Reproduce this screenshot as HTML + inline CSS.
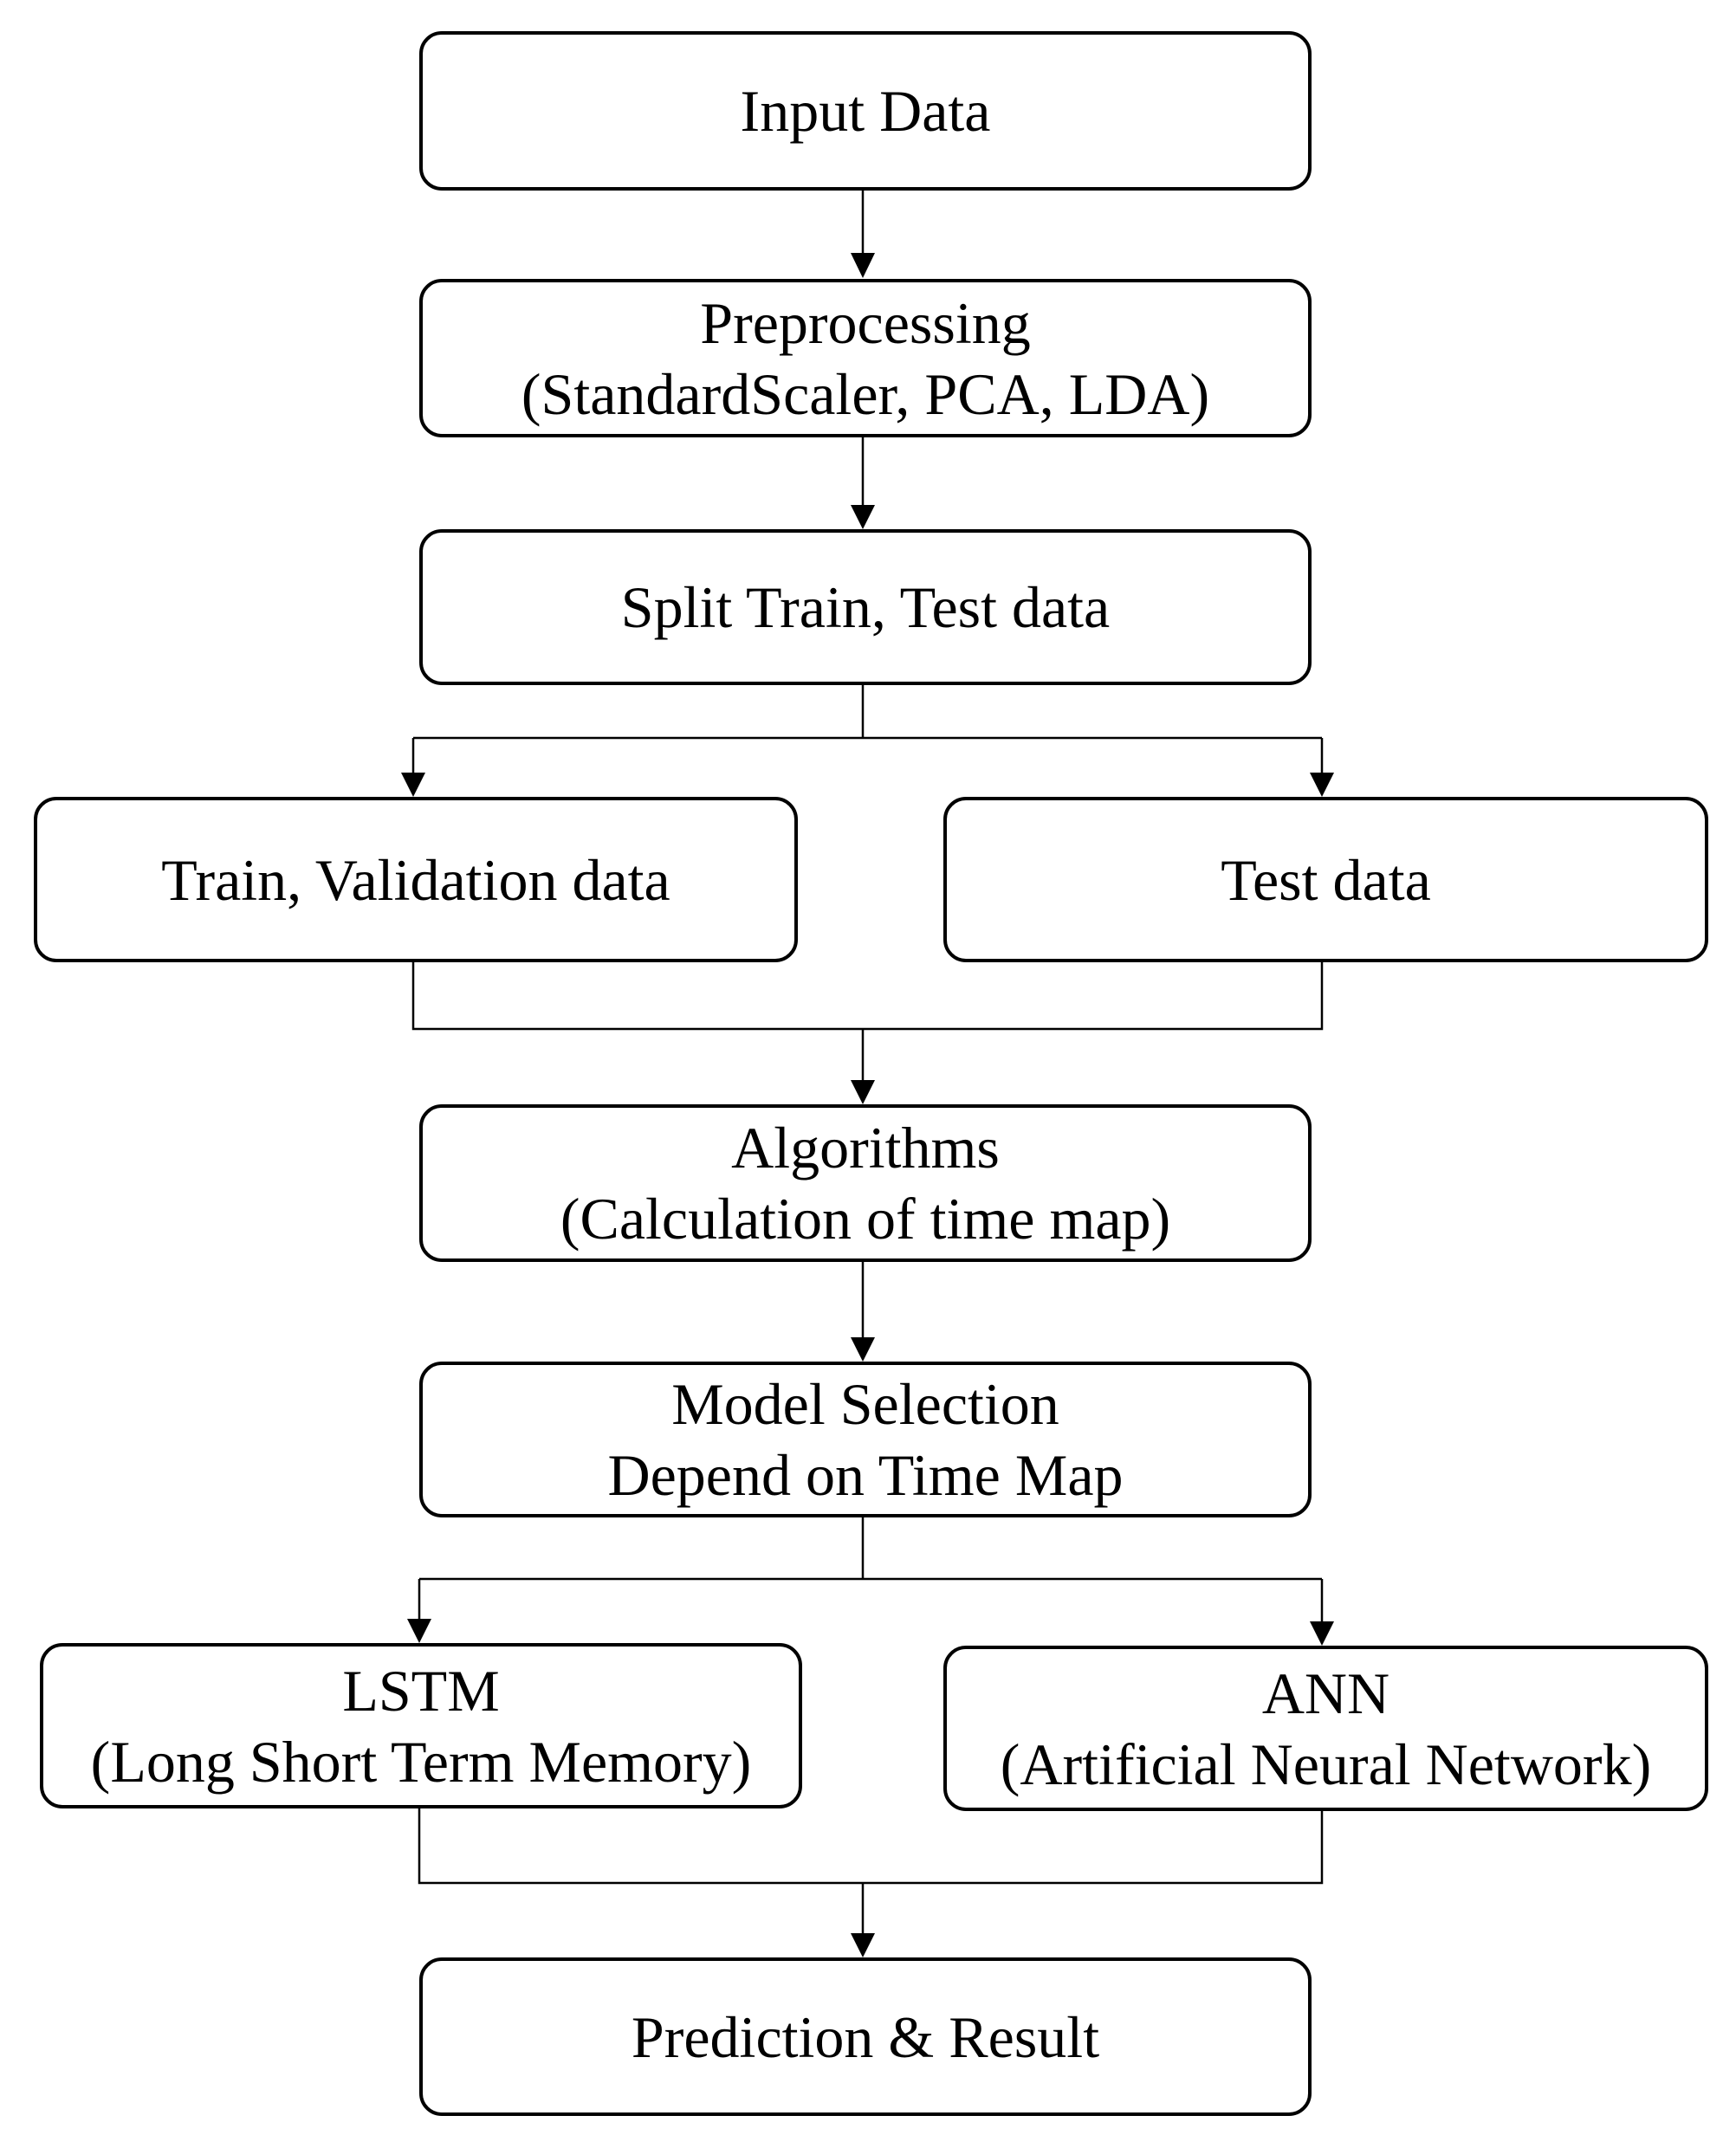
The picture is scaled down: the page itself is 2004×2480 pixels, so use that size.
<!DOCTYPE html>
<html><head><meta charset="utf-8"><style>
html,body{margin:0;padding:0;background:#fff;}
body{width:2004px;height:2480px;position:relative;overflow:hidden;font-family:"Liberation Serif",serif;}
.b{position:absolute;box-sizing:border-box;border:4px solid #000;border-radius:26px;display:flex;flex-direction:column;justify-content:center;align-items:center;font-size:68px;line-height:82px;color:#000;text-align:center;}
svg{position:absolute;left:0;top:0;}
</style></head><body>
<svg width="2004" height="2480" viewBox="0 0 2004 2480">
<g stroke="#000" stroke-width="2.5" fill="none">
<path d="M996 218 L996 296"/><path d="M982 292 L1010 292 L996 321 z" fill="#000" stroke="none"/>
<path d="M996 503 L996 585"/><path d="M982 583 L1010 583 L996 611 z" fill="#000" stroke="none"/>
<path d="M996 789 L996 852 M477 852 L1526 852 M477 852 L477 895 M1526 852 L1526 895"/>
<path d="M463 892 L491 892 L477 920 z" fill="#000" stroke="none"/>
<path d="M1512 892 L1540 892 L1526 920 z" fill="#000" stroke="none"/>
<path d="M477 1109 L477 1188 L1526 1188 L1526 1109 M996 1188 L996 1250"/>
<path d="M982 1247 L1010 1247 L996 1275 z" fill="#000" stroke="none"/>
<path d="M996 1455 L996 1548"/><path d="M982 1544 L1010 1544 L996 1572 z" fill="#000" stroke="none"/>
<path d="M996 1750 L996 1823 M484 1823 L1526 1823 M484 1823 L484 1872 M1526 1823 L1526 1875"/>
<path d="M470 1869 L498 1869 L484 1897 z" fill="#000" stroke="none"/>
<path d="M1512 1872 L1540 1872 L1526 1900 z" fill="#000" stroke="none"/>
<path d="M484 2086 L484 2174 L1526 2174 L1526 2089 M996 2174 L996 2235"/>
<path d="M982 2232 L1010 2232 L996 2260 z" fill="#000" stroke="none"/>
</g></svg>
<div class="b" style="left:484px;top:36px;width:1030px;height:184px;">Input Data</div>
<div class="b" style="left:484px;top:322px;width:1030px;height:183px;"><div>Preprocessing</div><div>(StandardScaler, PCA, LDA)</div></div>
<div class="b" style="left:484px;top:611px;width:1030px;height:180px;">Split Train, Test data</div>
<div class="b" style="left:39px;top:920px;width:882px;height:191px;">Train, Validation data</div>
<div class="b" style="left:1089px;top:920px;width:883px;height:191px;">Test data</div>
<div class="b" style="left:484px;top:1275px;width:1030px;height:182px;"><div>Algorithms</div><div>(Calculation of time map)</div></div>
<div class="b" style="left:484px;top:1572px;width:1030px;height:180px;"><div>Model Selection</div><div>Depend on Time Map</div></div>
<div class="b" style="left:46px;top:1897px;width:880px;height:191px;"><div>LSTM</div><div>(Long Short Term Memory)</div></div>
<div class="b" style="left:1089px;top:1900px;width:883px;height:191px;"><div>ANN</div><div>(Artificial Neural Network)</div></div>
<div class="b" style="left:484px;top:2260px;width:1030px;height:183px;">Prediction &amp; Result</div>
</body></html>
